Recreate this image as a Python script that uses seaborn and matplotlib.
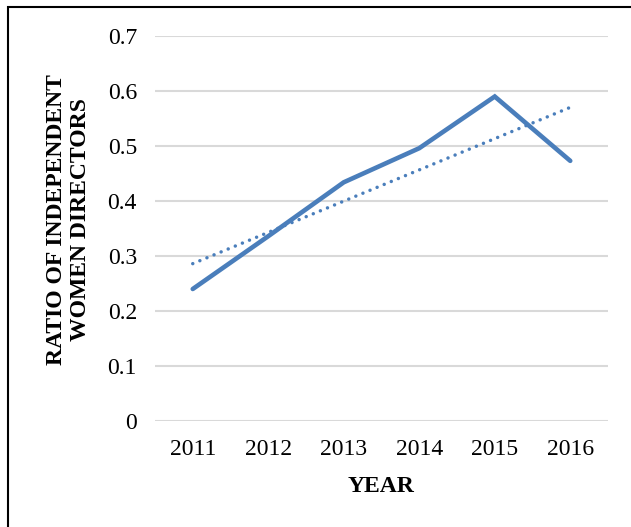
import matplotlib
matplotlib.use("Agg")
import matplotlib.pyplot as plt
from matplotlib import font_manager as fm
import seaborn as sns
import pandas as pd
from matplotlib.patches import Rectangle

years = [2011, 2012, 2013, 2014, 2015, 2016]
ratio = [0.240, 0.336, 0.434, 0.496, 0.590, 0.473]
y_ticks = [0, 0.1, 0.2, 0.3, 0.4, 0.5, 0.6, 0.7]
y_tick_labels = ["0", "0.1", "0.2", "0.3", "0.4", "0.5", "0.6", "0.7"]
x_label = "YEAR"
y_label = "RATIO OF INDEPENDENT\nWOMEN DIRECTORS"

df = pd.DataFrame({"year": years, "ratio": ratio})

# locate Liberation Serif (Times metric-compatible)
serif_name = None
for f in fm.findSystemFonts():
    base = f.replace("\\", "/").split("/")[-1].lower()
    if base.startswith("liberationserif"):
        try:
            fm.fontManager.addfont(f)
            serif_name = fm.FontProperties(fname=f).get_name()
        except Exception:
            pass
families = [n for n in [serif_name, "Liberation Serif", "Times New Roman", "DejaVu Serif"] if n]

sns.set_theme(style="white")
plt.rcParams["font.family"] = families
for k in ["text.color", "axes.labelcolor", "xtick.color", "ytick.color"]:
    plt.rcParams[k] = "black"

fig = plt.figure(figsize=(6.31, 5.27), dpi=100)
ax = fig.add_axes([155 / 631, 1 - 421 / 527, (608 - 155) / 631, (421 - 36) / 527])

color = "#4a7ebb"
sns.lineplot(data=df, x="year", y="ratio", ax=ax, color=color, linewidth=3.3,
             solid_capstyle="round", solid_joinstyle="miter", zorder=3)
sns.regplot(data=df, x="year", y="ratio", ax=ax, scatter=False, ci=None,
            truncate=True,
            line_kws=dict(color=color, linewidth=2.5, linestyle=(0, (0.01, 2.2)),
                          dash_capstyle="round", zorder=2))

fs = 17
ax.set_xlim(2010.5, 2016.5)
ax.set_ylim(0, 0.7)
ax.set_xticks(years)
ax.set_xticklabels([str(y) for y in years], fontsize=fs)
ax.set_yticks(y_ticks)
ax.set_yticklabels(y_tick_labels, fontsize=fs)
ax.tick_params(axis="both", length=0)
ax.tick_params(axis="y", pad=13)
ax.tick_params(axis="x", pad=13)
ax.yaxis.grid(True, color="#d9d9d9", linewidth=1.5)
ax.set_axisbelow(True)
for s in ax.spines.values():
    s.set_visible(False)

ax.set_xlabel(x_label, fontsize=fs, fontweight="bold")
ax.set_ylabel(y_label, fontsize=fs, fontweight="bold", linespacing=1.15)
ax.xaxis.set_label_coords(0.5, (421 - 486) / 385)
ax.yaxis.set_label_coords((68.5 - 155) / 453, (421 - 220) / 385)
ax.yaxis.label.set_va("center")
ax.xaxis.label.set_va("center")

fig.patches.append(Rectangle((8 / 631, -0.1), 1.2, 1 - 7.3 / 527 + 0.1,
                             transform=fig.transFigure, fill=False,
                             edgecolor="black", linewidth=1.5, zorder=10))

fig.savefig("out.png", dpi=100)
